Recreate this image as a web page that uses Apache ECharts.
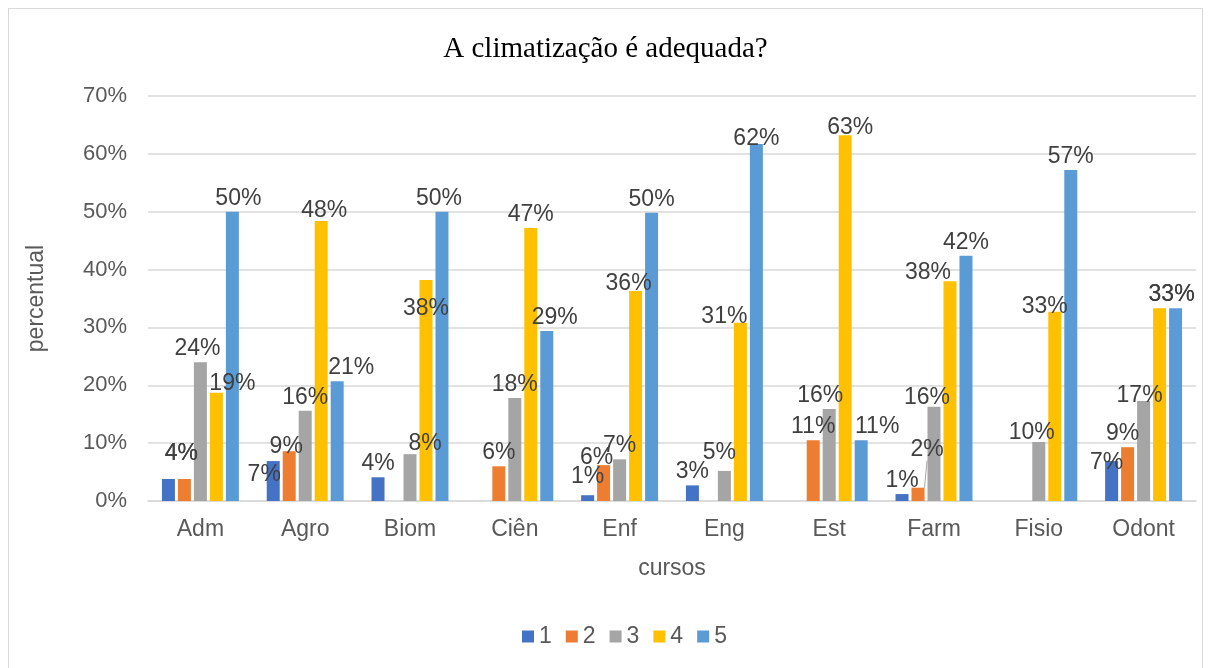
<!DOCTYPE html>
<html>
<head>
<meta charset="utf-8">
<script src="https://cdn.jsdelivr.net/npm/echarts@6/dist/echarts.min.js"></script>
<style>
  html, body { margin: 0; padding: 0; background: #fff; }
  .frame {
    position: absolute; left: 8px; top: 8px;
    width: 1195px; height: 670px;
    border: 1px solid #d9d9d9; box-sizing: border-box;
  }
  #chart { position: absolute; left: 0; top: 0; width: 1211px; height: 668px; }
</style>
</head>
<body>
<div class="frame"></div>
<div id="chart"></div>
<script>
// categorias (cursos)
const cursos = ['Adm', 'Agro', 'Biom', 'Ciên', 'Enf', 'Eng', 'Est', 'Farm', 'Fisio', 'Odont']
const seriesNames = ['1', '2', '3', '4', '5']

// percentuais por resposta
const resp1 = [3.8, 6.9, 4.1, 0, 1.0, 2.7, 0, 1.2, 0, 6.9]
const resp2 = [3.8, 8.6, 0, 6.0, 6.2, 0, 10.5, 2.3, 0, 9.3]
const resp3 = [24.0, 15.6, 8.1, 17.8, 7.2, 5.2, 15.9, 16.3, 10.2, 17.3]
const resp4 = [18.7, 48.4, 38.2, 47.2, 36.3, 30.8, 63.2, 38.0, 32.7, 33.3]
const resp5 = [50.0, 20.7, 50.0, 29.4, 49.8, 61.7, 10.5, 42.4, 57.2, 33.3]

const yTicks = [0, 10, 20, 30, 40, 50, 60, 70]

const colors = ['#4472C4', '#ED7D31', '#A5A5A5', '#FFC000', '#5B9BD5']
const allData = [resp1, resp2, resp3, resp4, resp5]

// deslocamento dos rótulos (como o Excel arrumou), chave "serie,curso"
const nudge = {
  '0,0': [13, -12], '1,0': [-3, -12], '2,0': [-3, 0], '3,0': [16, 4], '4,0': [6, 0],
  '0,1': [-9, 27], '1,1': [-3, 9], '3,1': [3, 3], '4,1': [14, 0],
  '2,2': [15, 3], '3,2': [0, 42], '4,2': [-3, 0],
  '4,3': [8, 0],
  '0,4': [0, -5], '1,4': [-7, 6], '3,4': [-7, 6],
  '2,5': [-5, -5], '3,5': [-16, 7], '4,5': [0, 8],
  '2,6': [-9, 0], '3,6': [5, 6], '4,6': [16, 0],
  '1,7': [9, -25], '2,7': [-7, 4], '3,7': [-22, 5],
  '2,8': [-7, 4], '3,8': [-10, 8],
  '0,9': [-5, 15], '1,9': [-5, 0], '2,9': [-4, 8], '3,9': [12, 0], '4,9': [-4, 0]
}

const chart = echarts.init(document.getElementById('chart'))
const font = 'Liberation Sans, Arial, sans-serif'

chart.setOption({
  animation: false,
  color: colors,
  title: {
    text: 'A climatização é adequada?',
    left: 'center',
    top: 30,
    textStyle: { fontFamily: 'Liberation Serif, Times New Roman, serif', fontSize: 29, fontWeight: 'normal', color: '#000' }
  },
  grid: { left: 148, right: 15, top: 96, bottom: 167 },
  legend: {
    bottom: 15,
    left: 517,
    itemWidth: 12,
    itemHeight: 12,
    itemGap: 14,
    icon: 'rect',
    textStyle: { fontFamily: font, fontSize: 23, color: '#595959' },
    data: seriesNames
  },
  xAxis: {
    type: 'category',
    data: cursos,
    name: 'cursos',
    nameLocation: 'middle',
    nameGap: 56,
    nameTextStyle: { fontFamily: font, fontSize: 23, color: '#595959' },
    axisLine: { lineStyle: { color: '#d9d9d9', width: 1.5 } },
    axisTick: { show: false },
    axisLabel: { fontFamily: font, fontSize: 23, color: '#595959', margin: 17 }
  },
  yAxis: {
    type: 'value',
    min: yTicks[0],
    max: yTicks[yTicks.length - 1],
    interval: 10,
    name: 'percentual',
    nameLocation: 'middle',
    nameGap: 100,
    nameTextStyle: { fontFamily: font, fontSize: 23, color: '#595959' },
    axisLabel: { formatter: '{value}%', fontFamily: font, fontSize: 22, color: '#595959', margin: 21 },
    splitLine: { lineStyle: { color: '#d9d9d9', width: 1.5 } }
  },
  series: allData.map((d, i) => ({
    name: seriesNames[i],
    type: 'bar',
    data: d.map((v, c) => i === 1 && c === 7
      ? { value: v, labelLine: { show: true } }
      : v),
    barWidth: 13,
    barGap: '23%',
    label: {
      show: true,
      position: 'top',
      distance: 2,
      fontFamily: font,
      fontSize: 23,
      color: '#404040',
      formatter: p => p.value > 0 ? Math.round(p.value) + '%' : ''
    },
    labelLine: { show: false, lineStyle: { color: '#a5a5a5', width: 1 } },
    labelLayout: p => {
      const n = nudge[p.seriesIndex + ',' + p.dataIndex]
      return n ? { dx: n[0], dy: n[1] } : {}
    }
  }))
})
</script>
</body>
</html>
